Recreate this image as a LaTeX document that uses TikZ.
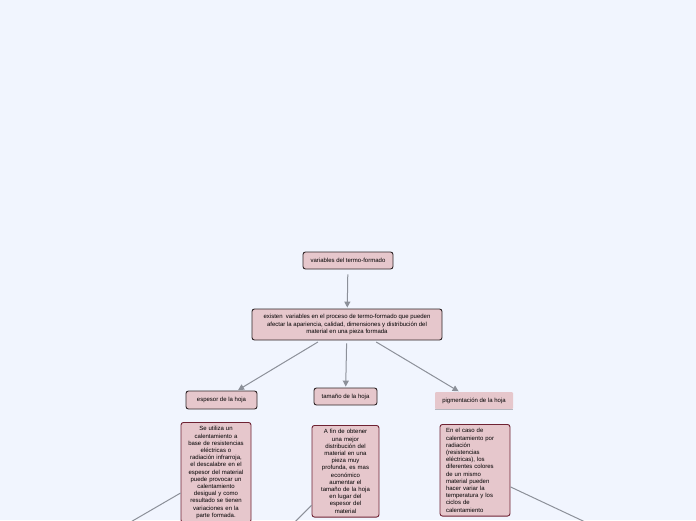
\documentclass[tikz,border=0pt]{standalone}
\usepackage{fontspec}
\setmainfont{Liberation Sans}
\usepackage{tikz}
\usetikzlibrary{arrows.meta,positioning,calc}
\usepackage{xcolor}
\definecolor{bgblue}{HTML}{F1F5FE}
\definecolor{pinkfill}{HTML}{E6C7CC}
\definecolor{darkline}{HTML}{2E2426}
\definecolor{wineline}{HTML}{6E2233}
\definecolor{linkgray}{HTML}{8C9099}
\definecolor{shadowgray}{HTML}{B4B6BE}

\begin{document}
\begin{tikzpicture}[x=1pt, y=-1pt, every node/.style={font=\fontsize{6}{7.2}\selectfont},
    topic/.style={draw=darkline, fill=pinkfill, rounded corners=2.5pt, line width=0.9pt},
    note/.style={draw=wineline, fill=pinkfill, rounded corners=2.5pt, line width=0.9pt, anchor=north, inner sep=4pt},
    link/.style={draw=linkgray, line width=1pt, -{Triangle[length=6pt,width=6pt]}, shorten <=3pt, shorten >=1pt}]
                    \fill[bgblue] (0,0) rectangle (696,520);
                    \useasboundingbox (0,0) rectangle (696,520);
                    % Level 0
                    \node[topic, minimum width=90pt, minimum height=17pt] (var) at (348,260.5) {variables del termo-formado};
                    % Level 1
                    \node[topic, minimum width=190pt, minimum height=31pt, align=center] (exist) at (347,324.5) {existen\ \ variables en el proceso de termo-formado que pueden\\afectar la apariencia, calidad, dimensiones y distribución del\\material en una pieza formada};
                    % Level 2
                    \node[topic, minimum width=71pt, minimum height=18pt] (esp) at (221.5,400) {espesor de la hoja};
                    \node[topic, minimum width=63pt, minimum height=17pt] (tam) at (345.5,396.5) {tamaño de la hoja};
                    \node[fill=pinkfill, rounded corners=1pt, minimum width=78pt, minimum height=17pt] (pig) at (474,400.5) {pigmentación de la hoja};
                    \draw[shadowgray, line width=1.2pt] (pig.south west) -- (pig.south east);
                    % Level 3
                    \node[note, minimum width=70pt, text width=62pt, align=center] (espnote) at (216,422) {Se utiliza un\\calentamiento a\\base de resistencias\\eléctricas o\\radiación infrarroja,\\el descalabre en el\\espesor del material\\puede provocar un\\calentamiento\\desigual y como\\resultado se tienen\\variaciones en la\\parte formada.};
                    \node[note, minimum width=67pt, text width=59pt, align=center] (tamnote) at (345.5,425) {A fin de obtener\\una mejor\\distribución del\\material en una\\pieza muy\\profunda, es mas\\económico\\aumentar el\\tamaño de la hoja\\en lugar del\\espesor del\\material};
                    \node[note, minimum width=70pt, text width=58pt, align=left] (pignote) at (475,424) {En el caso de\\calentamiento por\\radiación\\(resistencias\\eléctricas), los\\diferentes colores\\de un mismo\\material pueden\\hacer variar la\\temperatura y los\\ciclos de\\calentamiento};
                    % ends beyond the page
                    \coordinate (out1) at (94.5,543);
                    \coordinate (out2) at (273,544);
                    \coordinate (out3) at (632,544);
                    % arrows
                    \draw[link, shorten <=5pt] (var) -- (exist);
                    \draw[link] (exist) -- (esp);
                    \draw[link] (exist) -- (tam);
                    \draw[link] (exist) -- (pig);
                    \draw[linkgray, line width=1pt] (espnote) -- (out1);
                    \draw[linkgray, line width=1pt] (tamnote) -- (out2);
                    \draw[linkgray, line width=1pt] (pignote) -- (out3);
                \end{tikzpicture}
\end{document}
